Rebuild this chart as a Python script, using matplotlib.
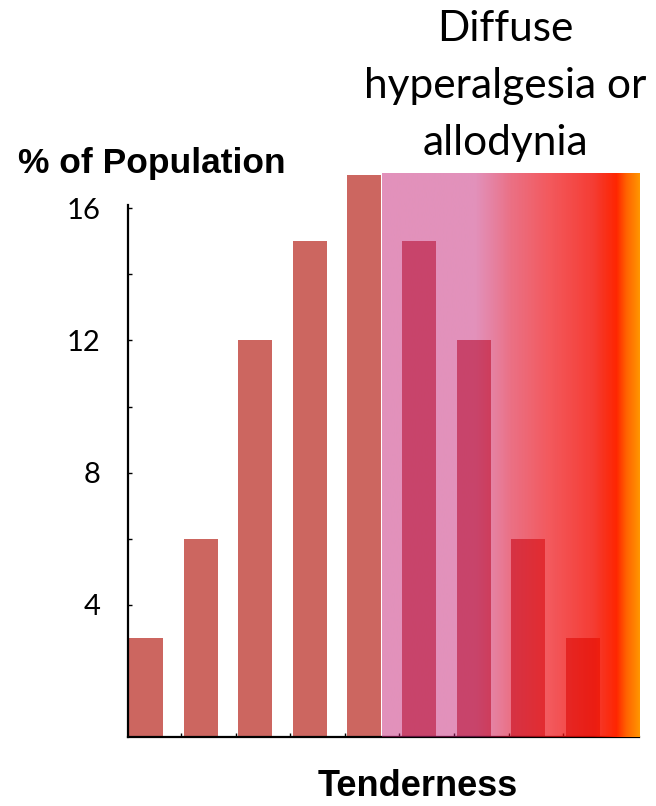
import numpy as np
import matplotlib
matplotlib.use("Agg")
import matplotlib.pyplot as plt

# tenderness categories, % of population
tenderness = np.arange(9)
population = [3, 6, 12, 15, 17, 15, 12, 6, 3]
y_ticks = [4, 8, 12, 16]

bar_color = "#cc6660"

W, H = 656, 806
fig = plt.figure(figsize=(W / 100, H / 100), dpi=100)

# axes placed in pixel terms
left, right, bottom, top = 128, 639, 737, 205
ax = fig.add_axes([left / W, (H - bottom) / H, (right - left) / W, (bottom - top) / H])

ax.bar(tenderness, population, width=0.62, color=bar_color, clip_on=False, zorder=2)

# gradient overlay (colour seen on white + alpha), drawn on top of the bars
stops = [0.0, 0.36, 0.50, 0.64, 0.82, 0.91, 0.95, 1.0]
seen = np.array([(226, 145, 187), (226, 145, 187), (235, 112, 132), (243, 90, 95),
                 (245, 60, 40), (255, 38, 0), (255, 100, 0), (255, 150, 0)], float)
alpha = np.array([0.5, 0.5, 0.6, 0.7, 0.8, 1.0, 1.0, 1.0])
base = np.clip((seen - (1 - alpha)[:, None] * 255) / alpha[:, None], 0, 255) / 255

xs = np.linspace(0, 1, 400)
img = np.zeros((1, len(xs), 4))
for c in range(3):
    img[0, :, c] = np.interp(xs, stops, base[:, c])
img[0, :, 3] = np.interp(xs, stops, alpha)

x0, x1 = 4.32, 9.03
ax.imshow(img, extent=[x0, x1, 0, 17.05], aspect="auto", clip_on=False,
          zorder=3, interpolation="bilinear")

ax.set_xlim(-0.33, x1)
ax.set_ylim(0, 16.1)

for s in ["top", "right"]:
    ax.spines[s].set_visible(False)
for s in ["left", "bottom"]:
    ax.spines[s].set_linewidth(1.6)

ax.set_xticks(np.arange(1, 9) - 0.36)
ax.set_xticklabels([])
ax.set_yticks(np.arange(2, 17, 2))
ax.set_yticklabels([str(v) if v in y_ticks else "" for v in np.arange(2, 17, 2)])
ax.tick_params(direction="in", length=3, width=1, pad=20)
ax.tick_params(axis="y", labelsize=21)
for lab in ax.get_yticklabels():
    lab.set_fontfamily("Lato")

fig.text(18 / W, 1 - 163 / H, "% of Population", fontsize=25.5, fontweight="bold",
         family="Liberation Sans", ha="left", va="center")
fig.text(418 / W, 1 - 787 / H, "Tenderness", fontsize=26, fontweight="bold",
         family="Liberation Sans", ha="center", va="center")
fig.text(505 / W, 1 - 10 / H, "Diffuse\nhyperalgesia or\nallodynia", fontsize=30.5,
         family="Lato", ha="center", va="top", linespacing=1.62)

fig.savefig("out.png", dpi=100)
